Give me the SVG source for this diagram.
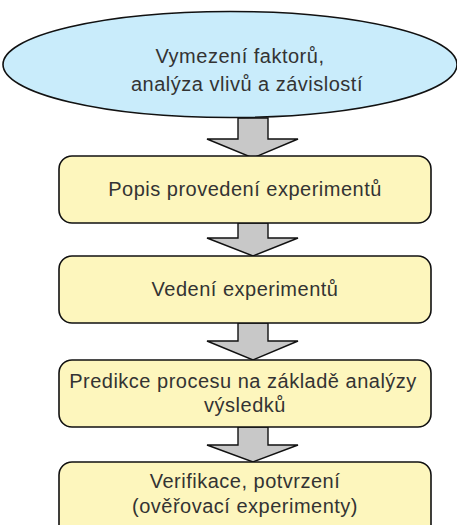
<svg xmlns="http://www.w3.org/2000/svg" width="457" height="525" viewBox="0 0 457 525">
<style>
.box{fill:#fdf6bd;stroke:#111;stroke-width:1.6}
.ell{fill:#c9ecfb;stroke:#111;stroke-width:1.6}
.arr{fill:#c8c8c8;stroke:#111;stroke-width:1.4;stroke-linejoin:miter}
text{font-family:"Liberation Sans",Arial,sans-serif;font-size:20px;letter-spacing:0.5px;fill:#333;text-anchor:middle}
</style>
<rect width="457" height="525" fill="#fff"/>
<g id="connectors">
<polygon class="arr" points="238,118 268,118 268,139 298,139 253,158 207,139 238,139"/>
<polygon class="arr" points="238,223 268,223 268,238 298,238 253,256 207,238 238,238"/>
<polygon class="arr" points="238,323 268,323 268,341 298,341 253,360 207,341 238,341"/>
<polygon class="arr" points="238,427 268,427 268,445 298,445 253,462 207,445 238,445"/>
</g>
<g id="n1">
<ellipse class="ell" cx="230" cy="64.5" rx="227" ry="53"/>
<text x="240" y="63">Vymezení faktorů,</text>
<text x="247" y="91">analýza vlivů a závislostí</text>
</g>
<g id="n2">
<rect class="box" x="59" y="156" width="372" height="67" rx="13"/>
<text x="245" y="196">Popis provedení experimentů</text>
</g>
<g id="n3">
<rect class="box" x="59" y="256" width="372" height="67" rx="13"/>
<text x="245" y="296">Vedení experimentů</text>
</g>
<g id="n4">
<rect class="box" x="59" y="360" width="372" height="67" rx="13"/>
<text x="243" y="388">Predikce procesu na základě analýzy</text>
<text x="245" y="412">výsledků</text>
</g>
<g id="n5">
<rect class="box" x="59" y="462" width="372" height="80" rx="13"/>
<text x="245" y="488">Verifikace, potvrzení</text>
<text x="245" y="513">(ověřovací experimenty)</text>
</g>
</svg>
